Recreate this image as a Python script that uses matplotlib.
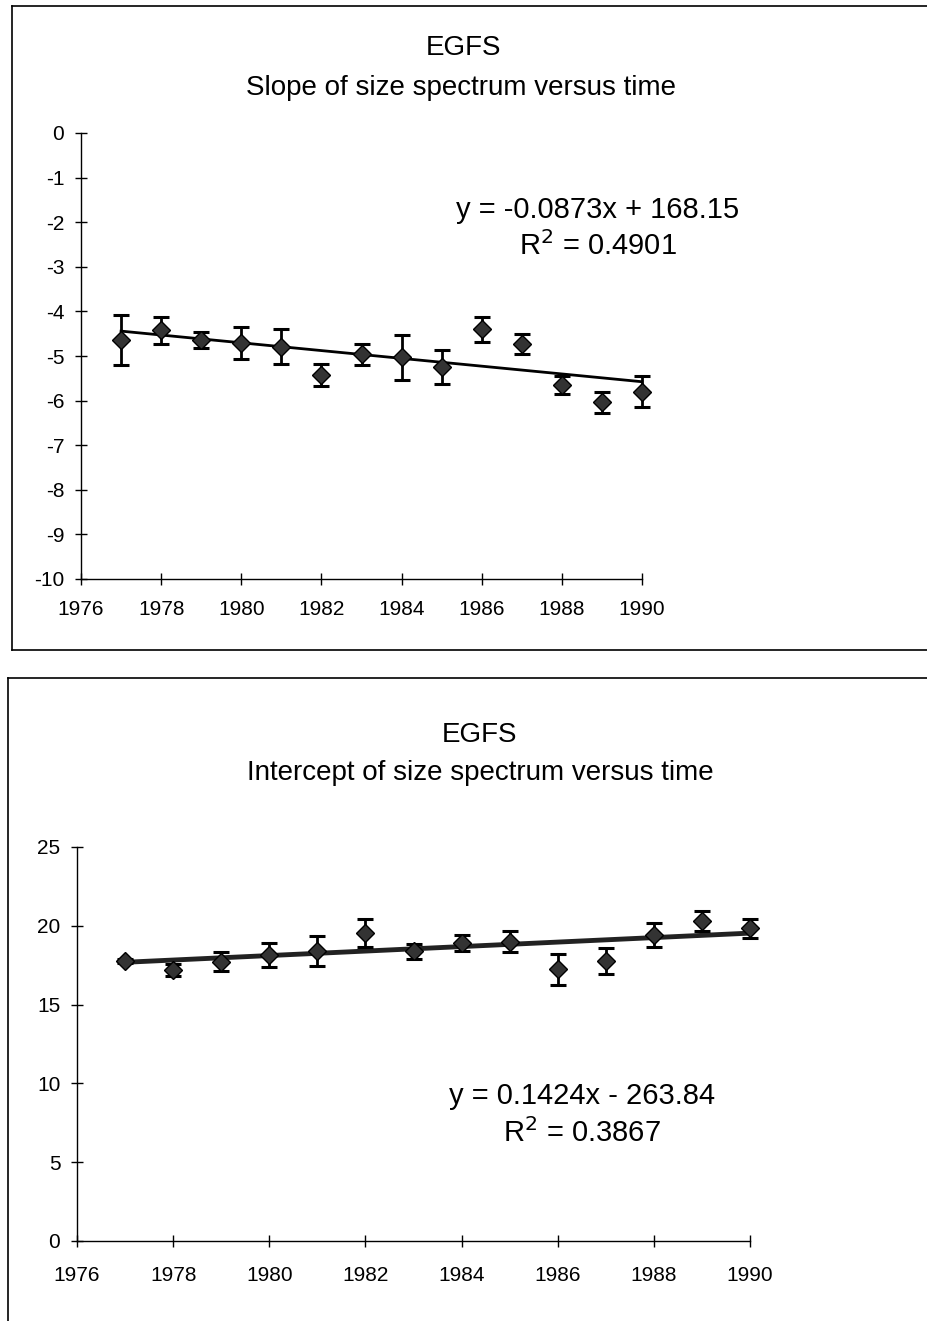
import matplotlib
matplotlib.use("Agg")
import matplotlib.pyplot as plt
from matplotlib.lines import Line2D
import numpy as np

plt.rcParams['font.family'] = ['Liberation Sans', 'DejaVu Sans']
plt.rcParams['axes.unicode_minus'] = False

years = [1977, 1978, 1979, 1980, 1981, 1982, 1983, 1984, 1985, 1986, 1987, 1988, 1989, 1990]

slope_vals = [-4.64, -4.42, -4.64, -4.71, -4.79, -5.43, -4.96, -5.03, -5.24, -4.40, -4.73, -5.65, -6.04, -5.80]
slope_err = [0.57, 0.30, 0.18, 0.35, 0.40, 0.24, 0.24, 0.50, 0.38, 0.28, 0.22, 0.20, 0.24, 0.35]
slope_fit = (-0.0873, 168.15)
slope_eq = "y = -0.0873x + 168.15"
slope_r2 = "R$^2$ = 0.4901"

icpt_vals = [17.77, 17.20, 17.72, 18.15, 18.40, 19.56, 18.37, 18.93, 19.00, 17.24, 17.77, 19.42, 20.33, 19.85]
icpt_err = [0.10, 0.40, 0.60, 0.75, 0.95, 0.90, 0.50, 0.50, 0.65, 1.00, 0.80, 0.74, 0.63, 0.60]
icpt_fit = (0.1424, -263.84)
icpt_eq = "y = 0.1424x - 263.84"
icpt_r2 = "R$^2$ = 0.3867"

W, H = 927, 1321
fig = plt.figure(figsize=(W / 100, H / 100), dpi=100)

def fx(px):
    return px / W

def fy(py):
    return 1 - py / H

# Outer frames
for xs, ys in [
    ([12, 12], [6, 650]), ([12, 927], [6, 6]), ([12, 927], [650, 650]),
    ([8, 8], [678, 1321]), ([8, 927], [678, 678]),
]:
    fig.add_artist(Line2D([fx(x) for x in xs], [fy(y) for y in ys], color='black', lw=1.2))

def style(ax, xpad):
    for s in ['top', 'right']:
        ax.spines[s].set_visible(False)
    for s in ['left', 'bottom']:
        ax.spines[s].set_linewidth(1.0)
    ax.tick_params(axis='x', direction='inout', length=8, width=1, labelsize=15, pad=xpad)
    ax.tick_params(axis='y', direction='inout', length=8, width=1, labelsize=15, pad=8)
    ax.set_xlim(1976, 1990)
    ax.set_xticks(range(1976, 1991, 2))
    ax.set_facecolor('none')

# Top chart
ax1 = fig.add_axes([fx(81), fy(579), fx(642) - fx(81), fy(133) - fy(579)])
style(ax1, 11)
ax1.set_ylim(-10, 0)
ax1.set_yticks(range(-10, 1))
xl = np.array([years[0], years[-1]])
ax1.plot(xl, slope_fit[0] * xl + slope_fit[1], color='black', lw=2, zorder=2)
ax1.errorbar(years, slope_vals, yerr=slope_err, fmt='D', color='black', mfc='#333333', mec='black',
             ms=9, elinewidth=2, capsize=6, capthick=2.2, zorder=3, clip_on=False)
fig.text(fx(463), fy(48), "EGFS", ha='center', va='center', fontsize=20)
fig.text(fx(461), fy(88), "Slope of size spectrum versus time", ha='center', va='center', fontsize=20)
fig.text(fx(598), fy(210), slope_eq, ha='center', va='center', fontsize=21)
fig.text(fx(598), fy(246), slope_r2, ha='center', va='center', fontsize=21)

# Bottom chart
ax2 = fig.add_axes([fx(77), fy(1241), fx(750) - fx(77), fy(847) - fy(1241)])
style(ax2, 14)
ax2.set_ylim(0, 25)
ax2.set_yticks(range(0, 26, 5))
ax2.plot(xl, icpt_fit[0] * xl + icpt_fit[1], color='#222222', lw=3.5, zorder=2)
ax2.errorbar(years, icpt_vals, yerr=icpt_err, fmt='D', color='black', mfc='#333333', mec='black',
             ms=9, elinewidth=2, capsize=6, capthick=2.2, zorder=3, clip_on=False)
fig.text(fx(480), fy(735), "EGFS", ha='center', va='center', fontsize=20)
fig.text(fx(480), fy(773), "Intercept of size spectrum versus time", ha='center', va='center', fontsize=20)
fig.text(fx(582), fy(1096), icpt_eq, ha='center', va='center', fontsize=21)
fig.text(fx(582), fy(1133), icpt_r2, ha='center', va='center', fontsize=21)

fig.savefig("out.png", dpi=100, facecolor='white')
